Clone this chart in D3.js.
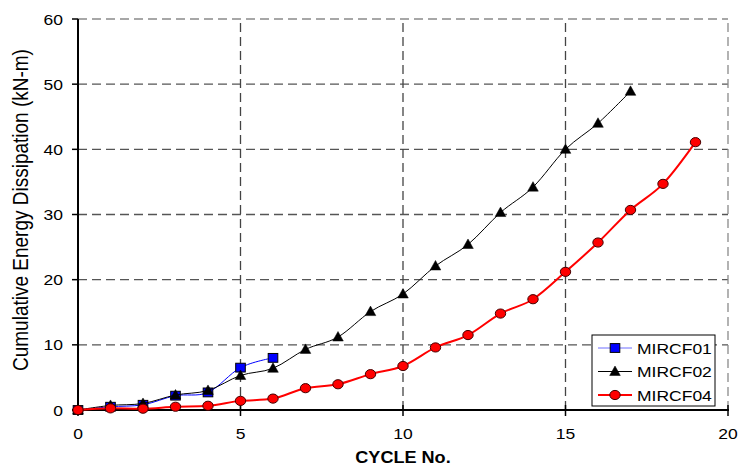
<!DOCTYPE html>
<html>
<head>
<meta charset="utf-8">
<script src="https://cdn.jsdelivr.net/npm/d3@7/dist/d3.min.js"></script>
<style>
  body { margin: 0; background: #fff; }
  text { font-family: Arial, "Liberation Sans", sans-serif; }
</style>
</head>
<body>
<div class="chart"></div>
<script>
var cycles = [0, 1, 2, 3, 4, 5, 6, 7, 8, 9, 10, 11, 12, 13, 14, 15, 16, 17, 18, 19];
var mircf01 = [0, 0.5, 0.8, 2.2, 2.7, 6.5, 8.0];
var mircf02 = [0, 0.7, 1.0, 2.3, 3.0, 5.3, 6.4, 9.3, 11.2, 15.1, 17.8, 22.1, 25.4, 30.3, 34.2, 40.0, 44.0, 48.9];
var mircf04 = [0, 0.25, 0.2, 0.5, 0.65, 1.4, 1.75, 3.35, 3.95, 5.5, 6.75, 9.6, 11.5, 14.8, 17.0, 21.2, 25.7, 30.7, 34.7, 41.1];
var seriesNames = ["MIRCF01", "MIRCF02", "MIRCF04"];
var xTicks = [0, 5, 10, 15, 20];
var yTicks = [0, 10, 20, 30, 40, 50, 60];

var width = 740, height = 469;
var stretch = 1.13;  // the source picture is a bit wider than tall

var x = d3.scaleLinear().domain([0, 20]).range([78, 728]);
var y = d3.scaleLinear().domain([0, 60]).range([410, 19]);

function pts(vals) {
  return vals.map(function(v, i) { return {c: cycles[i], v: v}; });
}

var series = [
  {name: seriesNames[0], data: pts(mircf01), color: "#0000ff", lw: 1, marker: "square"},
  {name: seriesNames[1], data: pts(mircf02), color: "#000000", lw: 1, marker: "triangle"},
  {name: seriesNames[2], data: pts(mircf04), color: "#ff0000", lw: 2, marker: "circle"}
];

var svg = d3.select(".chart").append("svg")
    .attr("width", width)
    .attr("height", height);

svg.append("rect").attr("width", width).attr("height", height).attr("fill", "#fff");

// dashed grid
var grid = svg.append("g");
grid.selectAll(".hg")
  .data(yTicks.slice(1))
  .enter().append("line")
    .attr("x1", x(0)).attr("x2", x(20))
    .attr("y1", function(d) { return y(d); })
    .attr("y2", function(d) { return y(d); })
    .attr("stroke", function(d) { return d === 60 ? "#8a8a8a" : "#555"; });
grid.selectAll(".vg")
  .data(xTicks.slice(1))
  .enter().append("line")
    .attr("x1", function(d) { return x(d); })
    .attr("x2", function(d) { return x(d); })
    .attr("y1", y(0)).attr("y2", y(60))
    .attr("stroke", function(d) { return d === 20 ? "#8a8a8a" : "#444"; });
grid.selectAll("line")
  .attr("stroke-width", 1.3)
  .attr("stroke-dasharray", "9,5");

// axes
var axisG = svg.append("g");
axisG.append("line")
  .attr("x1", x(0)).attr("x2", x(0)).attr("y1", y(60)).attr("y2", y(0) + 5)
  .attr("stroke", "#000").attr("stroke-width", 2);
axisG.append("line")
  .attr("x1", x(0) - 6).attr("x2", x(20) + 1).attr("y1", y(0)).attr("y2", y(0))
  .attr("stroke", "#000").attr("stroke-width", 2);

axisG.selectAll(".yt")
  .data(yTicks)
  .enter().append("line")
    .attr("x1", x(0) - 6).attr("x2", x(0))
    .attr("y1", function(d) { return y(d); })
    .attr("y2", function(d) { return y(d); })
    .attr("stroke", "#000").attr("stroke-width", 1.5);
axisG.selectAll(".xt")
  .data(xTicks)
  .enter().append("line")
    .attr("x1", function(d) { return x(d); })
    .attr("x2", function(d) { return x(d); })
    .attr("y1", y(0) - 5).attr("y2", y(0) + 6)
    .attr("stroke", "#000").attr("stroke-width", 1.5);

axisG.selectAll(".yl")
  .data(yTicks)
  .enter().append("text")
    .attr("transform", function(d) { return "translate(63," + (y(d) + 5.5) + ") scale(" + stretch + ",1)"; })
    .attr("text-anchor", "end")
    .attr("font-size", 15.5)
    .text(function(d) { return d; });
axisG.selectAll(".xl")
  .data(xTicks)
  .enter().append("text")
    .attr("transform", function(d) { return "translate(" + x(d) + ",439) scale(" + stretch + ",1)"; })
    .attr("text-anchor", "middle")
    .attr("font-size", 15.5)
    .text(function(d) { return d; });

svg.append("text")
  .attr("transform", "translate(" + x(10) + ",463) scale(" + stretch + ",1)")
  .attr("text-anchor", "middle")
  .attr("font-size", 16)
  .attr("font-weight", "bold")
  .text("CYCLE No.");

// y title, clipped at the top like the source
svg.append("clipPath").attr("id", "yclip")
  .append("rect").attr("x", 0).attr("y", 50).attr("width", 60).attr("height", 400);
svg.append("g").attr("clip-path", "url(#yclip)")
  .append("text")
    .attr("transform", "translate(28,371) rotate(-90) scale(1," + stretch + ")")
    .attr("font-size", 19)
    .text("Cumulative Energy Dissipation (kN-m)");

// series
var line = d3.line()
  .curve(d3.curveCardinal.tension(0))
  .x(function(d) { return x(d.c); })
  .y(function(d) { return y(d.v); });

function drawMarker(sel, s) {
  if (s.marker === "square") {
    sel.append("rect")
      .attr("x", -4.8).attr("y", -4.4).attr("width", 9.6).attr("height", 8.8)
      .attr("fill", s.color).attr("stroke", "#000").attr("stroke-width", 1);
  } else if (s.marker === "triangle") {
    sel.append("path")
      .attr("d", "M0,-5.5L5.3,4L-5.3,4Z")
      .attr("fill", "#000").attr("stroke", "#000").attr("stroke-width", 0.5);
  } else {
    sel.append("ellipse")
      .attr("rx", 5.2).attr("ry", 4.6)
      .attr("fill", s.color).attr("stroke", "#400").attr("stroke-width", 1);
  }
}

var sg = svg.selectAll(".series")
  .data(series)
  .enter().append("g")
    .attr("class", "series");

sg.append("path")
  .attr("d", function(d) { return line(d.data); })
  .attr("fill", "none")
  .attr("stroke", function(d) { return d.color; })
  .attr("stroke-width", function(d) { return d.lw; });

sg.each(function(s) {
  d3.select(this).selectAll(".pt")
    .data(s.data)
    .enter().append("g")
      .attr("transform", function(d) { return "translate(" + x(d.c) + "," + y(d.v) + ")"; })
      .each(function() { drawMarker(d3.select(this), s); });
});

// legend
var legend = svg.append("g").attr("transform", "translate(592,335)");
legend.append("rect")
  .attr("width", 123).attr("height", 71)
  .attr("fill", "#fff").attr("stroke", "#000").attr("stroke-width", 1);
var item = legend.selectAll(".item")
  .data(series)
  .enter().append("g")
    .attr("transform", function(d, i) { return "translate(0," + (13 + i * 23.5) + ")"; });
item.append("line")
  .attr("x1", 6).attr("x2", 40).attr("y1", 0).attr("y2", 0)
  .attr("stroke", function(d) { return d.color === "#0000ff" ? "#6f6fff" : d.color; })
  .attr("stroke-width", function(d) { return d.lw; });
item.append("g").attr("transform", "translate(23,0)")
  .each(function(d) { drawMarker(d3.select(this), d); });
item.append("text")
  .attr("transform", "translate(45,5.5) scale(" + stretch + ",1)")
  .attr("font-size", 15.5)
  .text(function(d) { return d.name; });
</script>
</body>
</html>
